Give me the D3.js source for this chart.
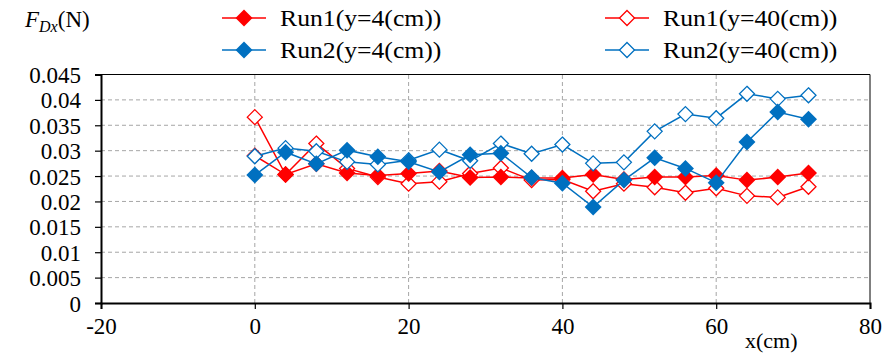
<!DOCTYPE html>
<html>
<head>
<meta charset="utf-8">
<script src="https://cdn.jsdelivr.net/npm/d3@7"></script>
<style>
  body { margin: 0; background: #fff; }
</style>
</head>
<body>
<div id="chart"></div>
<script>
// data
const xs = [0, 4, 8, 12, 16, 20, 24, 28, 32, 36, 40, 44, 48, 52, 56, 60, 64, 68, 72]
const run1y4  = [0.0290, 0.0253, 0.0274, 0.0256, 0.0251, 0.0255, 0.0260, 0.0247, 0.0248, 0.0246, 0.0246, 0.0253, 0.0243, 0.0248, 0.0248, 0.0251, 0.0242, 0.0248, 0.0256]
const run1y40 = [0.0366, 0.0253, 0.0314, 0.0265, 0.0248, 0.0235, 0.0239, 0.0255, 0.0266, 0.0242, 0.0243, 0.0220, 0.0235, 0.0228, 0.0217, 0.0226, 0.0211, 0.0208, 0.0229]
const run2y4  = [0.0252, 0.0297, 0.0274, 0.0301, 0.0288, 0.0278, 0.0258, 0.0292, 0.0295, 0.0247, 0.0236, 0.0189, 0.0242, 0.0286, 0.0265, 0.0237, 0.0317, 0.0376, 0.0362]
const run2y40 = [0.0289, 0.0305, 0.0299, 0.0278, 0.0273, 0.0281, 0.0302, 0.0280, 0.0314, 0.0294, 0.0312, 0.0275, 0.0277, 0.0338, 0.0372, 0.0364, 0.0412, 0.0402, 0.0409]

const seriesNames = ["Run1(y=4(cm))", "Run1(y=40(cm))", "Run2(y=4(cm))", "Run2(y=40(cm))"]
const xTicks = [-20, 0, 20, 40, 60, 80]
const yTicks = [0, 0.005, 0.01, 0.015, 0.02, 0.025, 0.03, 0.035, 0.04, 0.045]

const font = "'Liberation Serif', 'Times New Roman', serif"
const width = 884
const height = 354
const margin = {left: 101, right: 14, top: 74.5, bottom: 51}

const svg = d3.select("#chart")
  .append("svg")
    .attr("width", width)
    .attr("height", height)

const x = d3.scaleLinear().domain([-20, 80]).range([margin.left, width - margin.right])
const y = d3.scaleLinear().domain([0, 0.045]).range([height - margin.bottom, margin.top])

// gridlines
svg.append("g")
  .selectAll("line")
  .data(yTicks.filter(d => d > 0 && d < 0.045))
  .join("line")
    .attr("x1", x(-20)).attr("x2", x(80))
    .attr("y1", d => y(d)).attr("y2", d => y(d))
    .attr("stroke", "#a6a6a6")
    .attr("stroke-width", 1)
    .attr("stroke-dasharray", "4,3")
svg.append("g")
  .selectAll("line")
  .data(xTicks.filter(d => d > -20 && d < 80))
  .join("line")
    .attr("x1", d => x(d)).attr("x2", d => x(d))
    .attr("y1", y(0)).attr("y2", y(0.045))
    .attr("stroke", "#a6a6a6")
    .attr("stroke-width", 1)
    .attr("stroke-dasharray", "4,3")

// frame top + right
svg.append("path")
  .attr("d", `M${x(-20)},${y(0.045)}H${x(80)}V${y(0)}`)
  .attr("fill", "none")
  .attr("stroke", "#000")
  .attr("stroke-width", 1)

// axes
const xAxis = svg.append("g")
  .attr("transform", `translate(0,${y(0)})`)
  .call(d3.axisBottom(x).tickValues(xTicks).tickSize(6).tickPadding(9).tickFormat(d => String(d)))
const yAxis = svg.append("g")
  .attr("transform", `translate(${x(-20)},0)`)
  .call(d3.axisLeft(y).tickValues(yTicks).tickSize(6).tickPadding(14).tickFormat(d => d === 0 ? "0" : String(+d.toFixed(3))))

;[xAxis, yAxis].forEach(g => {
  g.attr("font-family", font).attr("font-size", 23)
  g.select(".domain").attr("stroke", "#000").attr("stroke-width", 2)
  g.selectAll(".tick line").attr("stroke", "#000").attr("stroke-width", 1.2)
  g.selectAll(".tick text").attr("fill", "#000")
})
yAxis.selectAll(".tick text").attr("dy", "0.35em")

// axis titles
svg.append("text")
  .attr("x", 745).attr("y", 348)
  .attr("font-family", font)
  .attr("font-size", 22)
  .text("x(cm)")

const ylab = svg.append("text")
  .attr("x", 25).attr("y", 27)
  .attr("font-family", font)
  .attr("font-size", 23)
ylab.append("tspan").attr("font-style", "italic").text("F")
ylab.append("tspan").attr("font-style", "italic").attr("font-size", 16).attr("dy", 5).text("Dx")
ylab.append("tspan").attr("dy", -5).text("(N)")

// series
const red = "#ff0000"
const blue = "#0070c0"
const series = [
  {name: seriesNames[0], values: run1y4,  color: red,  filled: true},
  {name: seriesNames[1], values: run1y40, color: red,  filled: false},
  {name: seriesNames[2], values: run2y4,  color: blue, filled: true},
  {name: seriesNames[3], values: run2y40, color: blue, filled: false},
]

const diamond = (cx, cy, r) => `M${cx},${cy - r}L${cx + r},${cy}L${cx},${cy + r}L${cx - r},${cy}Z`

const line = d3.line()
  .x((d, i) => x(xs[i]))
  .y(d => y(d))

// draw in order so Run2 sits on top like the reference
const drawOrder = [series[1], series[0], series[3], series[2]]
drawOrder.forEach(s => {
  const g = svg.append("g")
  g.append("path")
    .attr("d", line(s.values))
    .attr("fill", "none")
    .attr("stroke", s.color)
    .attr("stroke-width", 1.5)
  g.selectAll("path.pt")
    .data(s.values)
    .join("path")
    .attr("class", "pt")
    .attr("d", (d, i) => diamond(x(xs[i]), y(d), s.filled ? 8.5 : 7.5))
    .attr("fill", s.filled ? s.color : "#fff")
    .attr("stroke", s.color)
    .attr("stroke-width", s.filled ? 0 : 1.3)
})

// legend
const legendPos = [
  {lx: 222, ly: 18}, {lx: 605, ly: 18},
  {lx: 222, ly: 50}, {lx: 605, ly: 50},
]
series.forEach((s, i) => {
  const p = legendPos[i]
  const g = svg.append("g")
  g.append("line")
    .attr("x1", p.lx).attr("x2", p.lx + 44)
    .attr("y1", p.ly).attr("y2", p.ly)
    .attr("stroke", s.color).attr("stroke-width", 1.5)
  g.append("path")
    .attr("d", diamond(p.lx + 22, p.ly, s.filled ? 8.5 : 7.5))
    .attr("fill", s.filled ? s.color : "#fff")
    .attr("stroke", s.color)
    .attr("stroke-width", s.filled ? 0 : 1.3)
  const t = g.append("text")
    .attr("x", p.lx + 58).attr("y", p.ly + 8)
    .attr("font-family", font)
    .attr("font-size", 24)
    .text(s.name)
  // reference text is a bit wider than the font gives
  const w = t.node().getComputedTextLength()
  t.attr("textLength", w * 1.07).attr("lengthAdjust", "spacingAndGlyphs")
})
</script>
</body>
</html>
